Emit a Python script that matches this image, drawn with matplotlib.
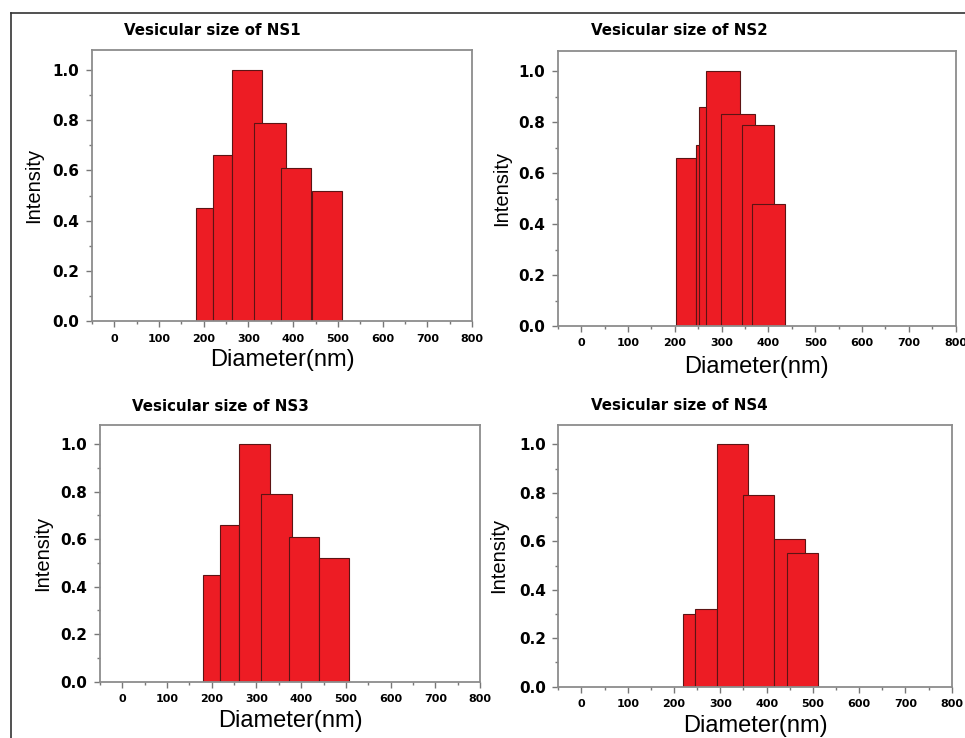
import numpy
from matplotlib import pyplot
from matplotlib.lines import Line2D
from matplotlib.ticker import MultipleLocator

# bar edges (nm) and normalised intensities
ns1_left = [182, 220, 263, 313, 373, 441]
ns1_right = [220, 263, 331, 384, 440, 509]
ns1_height = [0.45, 0.66, 1.00, 0.79, 0.61, 0.52]

ns2_left = [202, 245, 252, 267, 299, 344, 366]
ns2_right = [245, 290, 310, 339, 371, 413, 436]
ns2_height = [0.66, 0.71, 0.86, 1.00, 0.83, 0.79, 0.48]

ns3_left = [180, 218, 262, 311, 372, 440]
ns3_right = [218, 262, 331, 380, 440, 507]
ns3_height = [0.45, 0.66, 1.00, 0.79, 0.61, 0.52]

ns4_left = [220, 246, 292, 348, 417, 444]
ns4_right = [246, 292, 359, 417, 482, 512]
ns4_height = [0.30, 0.32, 1.00, 0.79, 0.61, 0.55]

titles = ["Vesicular size of NS1", "Vesicular size of NS2",
          "Vesicular size of NS3", "Vesicular size of NS4"]

W, H = 965., 738.

def pxAxes(fig, l, r, t, b):
    return fig.add_axes([l/W, (H-b)/H, (r-l)/W, (b-t)/H])

fig = pyplot.figure(figsize=(9.65, 7.38), dpi=100)

# outer frame (only top and left sides are visible in the reference)
fig.add_artist(Line2D([11/W, 11/W], [0, 1-13/H], transform=fig.transFigure,
                      color='#333333', lw=1.2))
fig.add_artist(Line2D([11/W, 1], [1-13/H, 1-13/H], transform=fig.transFigure,
                      color='#333333', lw=1.2))

boxes = [(92, 472, 50, 321), (557.7, 955.7, 50.7, 326),
         (100, 480, 425, 681.7), (558.3, 951.7, 425, 686.7)]
data = [(ns1_left, ns1_right, ns1_height), (ns2_left, ns2_right, ns2_height),
        (ns3_left, ns3_right, ns3_height), (ns4_left, ns4_right, ns4_height)]
ylabx = [-0.128, -0.116, -0.127, -0.127]
xlaby = [-0.105, -0.108, -0.11, -0.11]

for i in range(4):
    ax = pxAxes(fig, *boxes[i])
    left, right, height = data[i]
    left = numpy.array(left)
    width = numpy.array(right) - left

    ax.bar(left, height, width, align='edge', color='#ED1C24',
           edgecolor='#5c1414', lw=0.8)

    ax.set_xlim(-50, 800)
    ax.set_ylim(0, 1.08)
    ax.xaxis.set_major_locator(MultipleLocator(100))
    ax.xaxis.set_minor_locator(MultipleLocator(50))
    ax.yaxis.set_major_locator(MultipleLocator(0.2))
    ax.yaxis.set_minor_locator(MultipleLocator(0.1))
    ax.yaxis.set_major_formatter(pyplot.FuncFormatter(lambda v, p: "%.1f" % v))

    for s in ax.spines.values():
        s.set_color('#8c8c8c')
        s.set_linewidth(1.3)

    ax.tick_params(which='major', length=4, width=1, color='#777777',
                   direction='out', pad=5)
    ax.tick_params(which='minor', length=2, width=1, color='#777777',
                   direction='out')
    ax.tick_params(axis='x', labelsize=8)
    ax.tick_params(axis='y', labelsize=11)
    for lab in ax.get_xticklabels():
        lab.set_fontweight('heavy')
        lab.set_family('DejaVu Sans')
    for lab in ax.get_yticklabels():
        lab.set_fontweight('bold')
        lab.set_family('DejaVu Sans')

    ax.set_xlabel("Diameter(nm)", fontsize=17, family='Liberation Sans')
    ax.set_ylabel("Intensity", fontsize=14.5, family='Liberation Sans')
    ax.xaxis.set_label_coords(0.5, xlaby[i])
    ax.yaxis.set_label_coords(ylabx[i], 0.5)

    ax.text(0.084, 1.073, titles[i], transform=ax.transAxes,
            ha='left', va='center', fontsize=10.8, fontweight='heavy',
            family='DejaVu Sans')

pyplot.savefig('out.png', dpi=100)
